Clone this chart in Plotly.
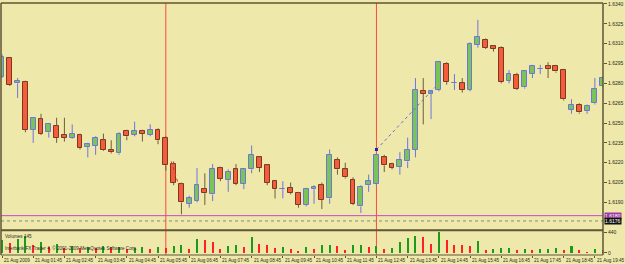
import plotly.graph_objects as go

# ---------------- data (EURUSD-like M15 bars, 21 Aug 2009) ----------------
open_ = [1.6285, 1.6299, 1.6280, 1.6281, 1.6245, 1.6253, 1.6243, 1.6248, 1.6241, 1.6239,
         1.6241, 1.6232, 1.6233, 1.6237, 1.6230, 1.6227, 1.6244, 1.6241, 1.6244, 1.6241,
         1.6245, 1.6239, 1.6219, 1.6204, 1.6189, 1.6191, 1.6200, 1.6196, 1.6216, 1.6207,
         1.6215, 1.6204, 1.6215, 1.6224, 1.6218, 1.6206, 1.6200, 1.6201, 1.6197, 1.6188,
         1.6200, 1.6203, 1.6193, 1.6222, 1.6215, 1.6207, 1.6187, 1.6203, 1.6204, 1.6224,
         1.6219, 1.6217, 1.6221, 1.6230, 1.6274, 1.6272, 1.6275, 1.6295, 1.6280, 1.6280,
         1.6275, 1.6309, 1.6313, 1.6308, 1.6307, 1.6282, 1.6286, 1.6277, 1.6287, 1.6291,
         1.6293, 1.6293, 1.6290, 1.6260, 1.6264, 1.6259, 1.6265, 1.6278]
high = [1.6302, 1.6300, 1.6284, 1.6282, 1.6254, 1.6257, 1.6250, 1.6254, 1.6254, 1.6249,
        1.6242, 1.6235, 1.6240, 1.6242, 1.6237, 1.6243, 1.6245, 1.6251, 1.6245, 1.6249,
        1.6246, 1.6240, 1.6221, 1.6205, 1.6195, 1.6216, 1.6212, 1.6219, 1.6217, 1.6215,
        1.6219, 1.6216, 1.6233, 1.6225, 1.6219, 1.6207, 1.6206, 1.6205, 1.6198, 1.6201,
        1.6203, 1.6205, 1.6230, 1.6224, 1.6220, 1.6209, 1.6203, 1.6211, 1.6227, 1.6226,
        1.6220, 1.6228, 1.6239, 1.6284, 1.6284, 1.6275, 1.6297, 1.6296, 1.6287, 1.6284,
        1.6311, 1.6328, 1.6314, 1.6309, 1.6308, 1.6290, 1.6288, 1.6290, 1.6294, 1.6294,
        1.6296, 1.6294, 1.6291, 1.6268, 1.6265, 1.6264, 1.6284, 1.6285]
low = [1.6284, 1.6278, 1.6269, 1.6243, 1.6235, 1.6241, 1.6239, 1.6235, 1.6236, 1.6238,
       1.6230, 1.6224, 1.6226, 1.6229, 1.6227, 1.6226, 1.6237, 1.6240, 1.6236, 1.6240,
       1.6234, 1.6214, 1.6203, 1.6181, 1.6186, 1.6190, 1.6188, 1.6191, 1.6206, 1.6198,
       1.6203, 1.6200, 1.6212, 1.6213, 1.6203, 1.6193, 1.6193, 1.6196, 1.6186, 1.6187,
       1.6189, 1.6185, 1.6189, 1.6211, 1.6208, 1.6188, 1.6182, 1.6198, 1.6203, 1.6213,
       1.6215, 1.6211, 1.6216, 1.6224, 1.6249, 1.6253, 1.6274, 1.6279, 1.6275, 1.6273,
       1.6274, 1.6307, 1.6306, 1.6304, 1.6280, 1.6280, 1.6275, 1.6276, 1.6284, 1.6287,
       1.6284, 1.6288, 1.6267, 1.6257, 1.6257, 1.6257, 1.6264, 1.6277]
close = [1.6300, 1.6279, 1.6282, 1.6245, 1.6254, 1.6242, 1.6249, 1.6239, 1.6239, 1.6242,
         1.6231, 1.6234, 1.6239, 1.6230, 1.6228, 1.6242, 1.6240, 1.6244, 1.6242, 1.6245,
         1.6237, 1.6218, 1.6205, 1.6190, 1.6193, 1.6203, 1.6197, 1.6215, 1.6208, 1.6213,
         1.6204, 1.6215, 1.6226, 1.6216, 1.6205, 1.6200, 1.6200, 1.6197, 1.6188, 1.6200,
         1.6202, 1.6192, 1.6226, 1.6215, 1.6209, 1.6189, 1.6202, 1.6206, 1.6226, 1.6218,
         1.6216, 1.6222, 1.6230, 1.6275, 1.6272, 1.6274, 1.6296, 1.6281, 1.6280, 1.6275,
         1.6310, 1.6315, 1.6307, 1.6306, 1.6281, 1.6287, 1.6276, 1.6289, 1.6293, 1.6291,
         1.6291, 1.6289, 1.6268, 1.6264, 1.6258, 1.6263, 1.6276, 1.6284]
volume = [262, 207, 298, 347, 155, 228, 113, 192, 100, 149,
          98, 128, 100, 149, 113, 128, 85, 100, 113, 85,
          117, 100, 134, 170, 85, 298, 277, 228, 85, 149,
          170, 121, 334, 192, 155, 100, 121, 85, 32, 121,
          85, 155, 170, 149, 64, 155, 170, 121, 149, 85,
          100, 219, 320, 362, 334, 192, 440, 277, 170, 164,
          149, 256, 64, 85, 92, 100, 49, 85, 49, 70,
          85, 100, 64, 149, 49, 15, 85, 49]

price_ticks = [1.6190, 1.6205, 1.6220, 1.6235, 1.6250, 1.6265, 1.6280, 1.6295, 1.6310, 1.6325, 1.6340]
price_tick_text = ["1.6190", "1.6205", "1.6220", "1.6235", "1.6250", "1.6265",
                   "1.6280", "1.6295", "1.6310", "1.6325", "1.6340"]
volume_ticks = [0, 440]
volume_tick_text = ["0", "440"]
time_label_bars = [0, 4, 8, 12, 16, 20, 24, 28, 32, 36, 40, 44, 48, 52, 56, 60, 64, 68, 72, 76]
time_labels = ["21 Aug 2009", "21 Aug 01:45", "21 Aug 02:45", "21 Aug 03:45", "21 Aug 04:45",
               "21 Aug 05:45", "21 Aug 06:45", "21 Aug 07:45", "21 Aug 08:45", "21 Aug 09:45",
               "21 Aug 10:45", "21 Aug 11:45", "21 Aug 12:45", "21 Aug 13:45", "21 Aug 14:45",
               "21 Aug 15:45", "21 Aug 16:45", "21 Aug 17:45", "21 Aug 18:45", "21 Aug 19:45"]
vline_bars = [21, 48]
level_line = 1.6180
bid_price = 1.6176
trend_blue_x = [48, 55.5]
trend_blue_y = [1.6230, 1.6277]
trend_red_x = [21.7, 22.6]
trend_red_y = [1.6221, 1.6204]

# ---------------- styling ----------------
BG = "#eee8aa"
DARK = "#5e5634"
TXT = "#2a2a1a"
UP_FILL = "#9ad86e"
UP_DOT = "#4eaa3a"
UP_LINE = "#6f74de"
DN_FILL = "#f65c3c"
DN_LINE = "#7a3a22"
DN_WICK = "#6e5e3a"
FONT = "Liberation Sans"

n = len(open_)
idx = list(range(n))
up = [close[i] >= open_[i] for i in idx]

fig = go.Figure()

# wicks (split so they don't overlap bodies)
def wick_xy(cond):
    xs, ys = [], []
    for i in idx:
        if up[i] != cond:
            continue
        top = max(open_[i], close[i]); bot = min(open_[i], close[i])
        xs += [i, i, None, i, i, None]
        ys += [high[i], top, None, bot, low[i], None]
    return xs, ys

wx, wy = wick_xy(True)
fig.add_trace(go.Scatter(x=wx, y=wy, mode="lines", line=dict(color=UP_LINE, width=1),
                         hoverinfo="skip", showlegend=False))
wx, wy = wick_xy(False)
fig.add_trace(go.Scatter(x=wx, y=wy, mode="lines", line=dict(color=DN_WICK, width=1),
                         hoverinfo="skip", showlegend=False))

MIN_BODY = 0.00001
for cond in (True, False):
    xs = [i for i in idx if up[i] == cond]
    base = [min(open_[i], close[i]) for i in xs]
    hgt = [max(abs(close[i] - open_[i]), MIN_BODY) for i in xs]
    if cond:
        marker = dict(color=UP_FILL, line=dict(color=UP_LINE, width=1),
                      pattern=dict(shape=".", bgcolor=UP_FILL, fgcolor=UP_DOT,
                                   size=2, solidity=0.5, fillmode="replace"))
    else:
        marker = dict(color=DN_FILL, line=dict(color=DN_LINE, width=1))
    fig.add_trace(go.Bar(x=xs, y=hgt, base=base, width=0.62, marker=marker,
                         showlegend=False, hoverinfo="skip", xaxis="x", yaxis="y"))

# volumes (MT4 style: green if higher than previous bar)
vcol = []
for i in idx:
    if i == 0 or volume[i] > volume[i - 1]:
        vcol.append("#1c9a1c")
    else:
        vcol.append("#ff2020")
fig.add_trace(go.Bar(x=idx, y=volume, width=0.26, marker=dict(color=vcol, line=dict(width=0)),
                     showlegend=False, hoverinfo="skip", xaxis="x", yaxis="y2"))

# trendlines
fig.add_trace(go.Scatter(x=trend_blue_x, y=trend_blue_y, mode="lines",
                         line=dict(color="#6a6ae0", width=1, dash="dot"),
                         showlegend=False, hoverinfo="skip"))
fig.add_trace(go.Scatter(x=[trend_blue_x[0]], y=[trend_blue_y[0]], mode="markers",
                         marker=dict(symbol="square", size=3, color="#2020c0"),
                         showlegend=False, hoverinfo="skip"))
fig.add_trace(go.Scatter(x=trend_red_x, y=trend_red_y, mode="lines",
                         line=dict(color="#e03020", width=1, dash="dot"),
                         showlegend=False, hoverinfo="skip"))

W, H = 625, 264
ML, MR, MT, MB = 1, 19, 1, 9
PH = H - MT - MB  # plot height in px (254)

def py(px):  # absolute pixel y -> paper fraction
    return (H - MB - px) / PH

shapes = []
for b in vline_bars:
    shapes.append(dict(type="line", xref="x", yref="paper", x0=b, x1=b, y0=0, y1=1,
                       line=dict(color="#ff4a3a", width=1), layer="below"))
shapes.append(dict(type="line", xref="paper", yref="y", x0=0, x1=1, y0=level_line, y1=level_line,
                   line=dict(color="#c24ccc", width=1)))
shapes.append(dict(type="line", xref="paper", yref="y", x0=0, x1=1, y0=bid_price, y1=bid_price,
                   line=dict(color="#8a8a7a", width=1, dash="dot")))
shapes.append(dict(type="line", xref="paper", yref="paper", x0=0, x1=1, y0=py(230), y1=py(230),
                   line=dict(color=DARK, width=2)))
shapes.append(dict(type="line", xref="paper", yref="paper", x0=0, x1=1, y0=1, y1=1,
                   line=dict(color=DARK, width=1.5)))
shapes.append(dict(type="line", xref="paper", yref="paper", x0=0, x1=0, y0=0, y1=1,
                   line=dict(color=DARK, width=1.5)))
shapes.append(dict(type="line", xref="paper", yref="paper", x0=1, x1=1, y0=0, y1=1,
                   line=dict(color=DARK, width=1.5)))
shapes.append(dict(type="line", xref="paper", yref="paper", x0=0, x1=1, y0=0, y1=0,
                   line=dict(color=DARK, width=1)))

ann = []
for b, t in zip(time_label_bars, time_labels):
    ann.append(dict(x=b, xref="x", y=0, yref="paper", text=t, showarrow=False,
                    xanchor="left", yanchor="top", xshift=0, yshift=-1,
                    font=dict(family=FONT, size=4.6, color=TXT)))
ann.append(dict(x=1, xref="paper", xanchor="left", xshift=1, y=level_line, yref="y",
                text="1.6180", showarrow=False, bgcolor="#a23aa8", borderpad=0,
                font=dict(family=FONT, size=5, color="white")))
ann.append(dict(x=1, xref="paper", xanchor="left", xshift=1, y=bid_price, yref="y",
                text="1.6176", showarrow=False, bgcolor="#101010", borderpad=0,
                font=dict(family=FONT, size=5, color="white")))
ann.append(dict(x=0, xref="paper", xanchor="left", xshift=2, y=py(236), yref="paper",
                yanchor="middle", text="Volumes 145", showarrow=False,
                font=dict(family=FONT, size=4.6, color=TXT)))
ann.append(dict(x=0, xref="paper", xanchor="left", xshift=2, y=py(248), yref="paper",
                yanchor="middle",
                text="Interbank FX Trader 4, © 2001-2009 MetaQuotes Software Corp.",
                showarrow=False, font=dict(family=FONT, size=4.6, color=TXT)))

fig.update_layout(
    width=W, height=H, margin=dict(l=ML, r=MR, t=MT, b=MB, pad=0),
    paper_bgcolor=BG, plot_bgcolor=BG, bargap=0, barmode="overlay",
    showlegend=False, shapes=shapes, annotations=ann,
    xaxis=dict(range=[-0.128, 77.04], showgrid=False, zeroline=False, anchor="y2",
               tickvals=time_label_bars, ticks="outside", ticklen=2, tickcolor=DARK,
               showticklabels=False, fixedrange=True),
    yaxis=dict(domain=[py(229), 1], range=[1.616975, 1.634075], side="right", anchor="x",
               tickvals=price_ticks, ticktext=price_tick_text, ticks="outside", ticklen=3,
               tickcolor=DARK, tickfont=dict(family=FONT, size=5, color=TXT),
               showgrid=False, zeroline=False),
    yaxis2=dict(domain=[0, py(231)], range=[-43, 461], side="right", anchor="x",
                tickvals=volume_ticks, ticktext=volume_tick_text, ticks="outside", ticklen=3,
                tickcolor=DARK, tickfont=dict(family=FONT, size=5, color=TXT),
                showgrid=False, zeroline=False),
)

fig.write_html("out.html")
